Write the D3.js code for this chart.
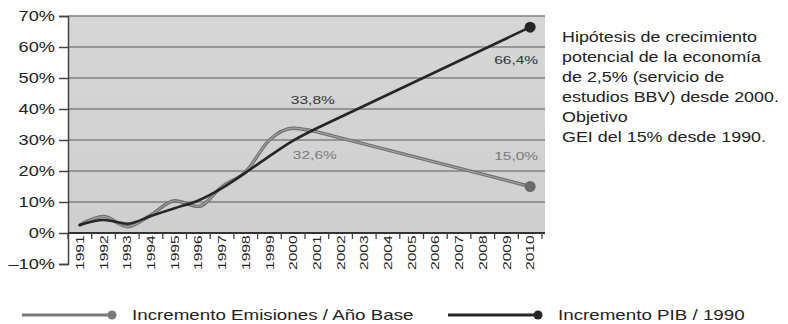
<html>
<head>
<meta charset="utf-8" />
<script src="https://cdn.jsdelivr.net/npm/d3@7"></script>
<style>
body { margin: 0; background: #fff; font-family: "Liberation Sans", Arial, sans-serif; }
</style>
</head>
<body>
<script>
var years = ["1991","1992","1993","1994","1995","1996","1997","1998","1999","2000",
             "2001","2002","2003","2004","2005","2006","2007","2008","2009","2010"];
// increments in % — emisiones to 2001 then objective 2010; PIB to 2001 then hypothesis 2010
var emisYears = ["1991","1992","1993","1994","1995","1996","1997","1998","1999","2000","2001","2010"];
var emisValues = [2.6, 5.3, 2.0, 5.8, 10.4, 8.6, 15.0, 19.8, 30.0, 33.8, 32.6, 15.0];
var pibYears = ["1991","1992","1993","1994","1995","1996","1997","1998","1999","2000","2001","2010"];
var pibValues = [2.6, 4.2, 3.0, 5.5, 8.0, 10.5, 14.5, 19.5, 24.8, 29.8, 33.8, 66.4];
var yTicks = [-10, 0, 10, 20, 30, 40, 50, 60, 70];
var labels = [
  {year: "2010", value: 66.4, text: "66,4%", series: "pib"},
  {year: "2001", value: 33.8, text: "33,8%", series: "pib"},
  {year: "2001", value: 32.6, text: "32,6%", series: "emis"},
  {year: "2010", value: 15.0, text: "15,0%", series: "emis"}
];
var noteLines = ["Hipótesis de crecimiento", "potencial de la economía", "de 2,5% (servicio de",
                 "estudios BBV) desde 2000.", "Objetivo", "GEI del 15% desde 1990."];
var legendNames = ["Incremento Emisiones / Año Base", "Incremento PIB / 1990"];

var W = 788, H = 324;
var SX = 1.3; // the source picture is stretched sideways
var svg = d3.select("body").append("svg").attr("width", W).attr("height", H);

var x = d3.scaleBand().domain(years).range([68, 542]);
var y = d3.scaleLinear().domain([-10, 70]).range([264, 16]);
var cx = function(yr) { return x(yr) + x.bandwidth() / 2; };

function wideText(g, tx, ty, sx) {
  return g.append("g").attr("transform", "translate(" + tx + "," + ty + ") scale(" + sx + ",1)")
    .append("text");
}

var grad = svg.append("defs").append("linearGradient").attr("id", "bg")
  .attr("x1", 0).attr("x2", 0).attr("y1", 0).attr("y2", 1);
grad.append("stop").attr("offset", "0%").attr("stop-color", "#d6d6d6");
grad.append("stop").attr("offset", "100%").attr("stop-color", "#cfcfcf");

svg.append("rect")
  .attr("x", 68).attr("y", y(70))
  .attr("width", 545 - 68).attr("height", y(0) - y(70))
  .attr("fill", "url(#bg)");

// grid
svg.append("g").selectAll("line").data(yTicks.filter(d => d > 0))
  .join("line")
  .attr("x1", 68).attr("x2", 545)
  .attr("y1", d => y(d)).attr("y2", d => y(d))
  .attr("stroke", "#808080").attr("stroke-width", 1.4);

// y axis
var yAxis = svg.append("g").attr("transform", "translate(68,0)")
  .call(d3.axisLeft(y).tickValues(yTicks).tickSize(9).tickFormat(d => (d < 0 ? "\u2013" + (-d) : d) + "%"));
yAxis.select(".domain").attr("stroke", "#444").attr("stroke-width", 1.5);
yAxis.selectAll(".tick line").attr("stroke", "#444").attr("stroke-width", 1.5);
yAxis.selectAll("text").attr("font-size", 14).attr("fill", "#222")
  .attr("font-family", "Liberation Sans, Arial, sans-serif")
  .attr("x", -13 / SX).attr("transform", "scale(" + SX + ",1)");

// x axis at 0
var xAxis = svg.append("g").attr("transform", "translate(0," + y(0) + ")")
  .call(d3.axisBottom(x).tickSize(0).tickPadding(0));
xAxis.select(".domain").attr("stroke", "#333").attr("stroke-width", 2).attr("d", "M68,0H545");
xAxis.selectAll(".tick text")
  .attr("font-size", 13).attr("fill", "#222")
  .attr("font-family", "Liberation Sans, Arial, sans-serif")
  .attr("transform", "rotate(-90) scale(1.2,0.9)")
  .attr("text-anchor", "end").attr("dy", "0.35em").attr("x", -2).attr("y", 0);
svg.append("g").selectAll("line").data(d3.range(21))
  .join("line")
  .attr("x1", i => 68 + i * x.step()).attr("x2", i => 68 + i * x.step())
  .attr("y1", y(0)).attr("y2", y(0) + 6)
  .attr("stroke", "#444").attr("stroke-width", 1.3);

var smooth = d3.line().x(d => cx(d[0])).y(d => y(d[1])).curve(d3.curveMonotoneX);
var straight = d3.line().x(d => cx(d[0])).y(d => y(d[1]));
var emis = emisYears.map((d, i) => [d, emisValues[i]]);
var pib = pibYears.map((d, i) => [d, pibValues[i]]);
var n = emis.length;

function drawSeries(data, styles) {
  styles.forEach(function(s) {
    svg.append("path").attr("d", smooth(data.slice(0, data.length - 1)) + straight(data.slice(data.length - 2)))
      .attr("fill", "none").attr("stroke", s[0]).attr("stroke-width", s[1])
      .attr("stroke-linejoin", "round").attr("stroke-linecap", "round");
  });
}
drawSeries(emis, [["#6e6e6e", 3.4], ["#a0a0a0", 1.2]]);
drawSeries(pib, [["#262626", 2.6]]);

svg.append("circle").attr("cx", cx("2010")).attr("cy", y(15.0)).attr("r", 5.5).attr("fill", "#6a6a6a");
svg.append("circle").attr("cx", cx("2010")).attr("cy", y(66.4)).attr("r", 5.5).attr("fill", "#262626");

// value labels
var lblOffset = {"66,4%": [-14, 33], "33,8%": [-4, -28], "32,6%": [-2, 23], "15,0%": [-14, -31]};
var lblG = svg.append("g");
labels.forEach(function(d) {
  wideText(lblG, cx(d.year) + lblOffset[d.text][0], y(d.value) + lblOffset[d.text][1], 1.35)
    .attr("text-anchor", "middle").attr("dy", "0.35em")
    .attr("font-size", 11.5).attr("fill", d.series === "pib" ? "#333" : "#7a7a7a")
    .text(d.text);
});

// note
var noteG = svg.append("g");
noteLines.forEach(function(t, i) {
  wideText(noteG, 562, 42 + i * 20, 1.28)
    .attr("font-size", 14).attr("fill", "#222").text(t);
});

// legend
var leg = [
  {x: 22, color: "#7a7a7a", text: legendNames[0]},
  {x: 448, color: "#262626", text: legendNames[1]}
];
leg.forEach(function(d) {
  var g = svg.append("g").attr("transform", "translate(" + d.x + ",315)");
  g.append("line").attr("x1", 0).attr("x2", 88).attr("y1", 0).attr("y2", 0)
    .attr("stroke", d.color).attr("stroke-width", 3);
  g.append("circle").attr("cx", 90).attr("cy", 0).attr("r", 4.5).attr("fill", d.color);
  wideText(g, 110, 0, 1.34).attr("dy", "0.35em")
    .attr("font-size", 14).attr("fill", "#222").text(d.text);
});
</script>
</body>
</html>
